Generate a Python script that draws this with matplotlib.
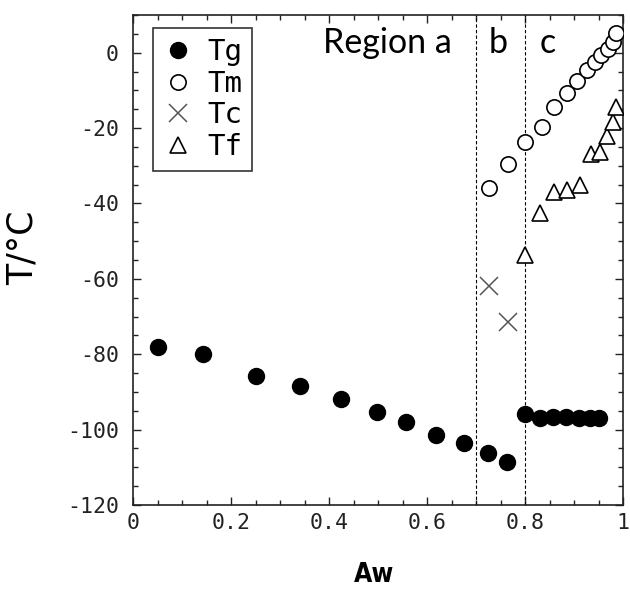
import matplotlib
matplotlib.use("Agg")
import matplotlib.pyplot as plt
from matplotlib.ticker import MultipleLocator, FuncFormatter
from matplotlib import font_manager as fm

# ---- data ----
tg_aw = [0.05, 0.142, 0.25, 0.34, 0.425, 0.497, 0.558, 0.619, 0.675, 0.725, 0.764,
         0.80, 0.830, 0.857, 0.884, 0.911, 0.932, 0.952]
tg_t = [-78.2, -80.0, -85.8, -88.3, -91.9, -95.3, -98.1, -101.4, -103.5, -106.3, -108.6,
        -95.9, -97.0, -96.6, -96.6, -96.8, -96.8, -96.8]

tm_aw = [0.727, 0.765, 0.801, 0.834, 0.859, 0.885, 0.906, 0.926, 0.943, 0.956, 0.970, 0.979, 0.985]
tm_t = [-36.0, -29.6, -23.6, -19.6, -14.5, -10.8, -7.5, -4.6, -2.4, -0.6, 1.1, 2.9, 5.1]

tc_aw = [0.726, 0.765]
tc_t = [-61.8, -71.4]

tf_aw = [0.80, 0.831, 0.859, 0.886, 0.912, 0.934, 0.953, 0.967, 0.979, 0.986]
tf_t = [-53.7, -42.4, -36.9, -36.4, -35.1, -26.9, -26.3, -22.1, -18.3, -14.3]

region_bounds = [0.7, 0.8]
region_labels = ["Region a", "b", "c"]
region_label_x = [0.520, 0.745, 0.847]
legend_labels = ["Tg", "Tm", "Tc", "Tf"]

names = {f.name for f in fm.fontManager.ttflist}
mono = "DejaVu Sans Mono"
calib = "Lato" if "Lato" in names else "DejaVu Sans"

fig = plt.figure(figsize=(6.3, 5.96), dpi=100)
ax = fig.add_axes([133 / 630, 1 - 505 / 596, 490 / 630, 490 / 596])

ax.plot(tg_aw, tg_t, "o", ms=11.5, color="black", mec="black", label=legend_labels[0], zorder=3)
ax.plot(tm_aw, tm_t, "o", ms=11, mfc="white", mec="black", mew=1.2, label=legend_labels[1], zorder=3)
ax.plot(tc_aw, tc_t, "x", ms=13, color="#555555", mew=1.1, label=legend_labels[2], zorder=3)
ax.plot(tf_aw, tf_t, "^", ms=11, mfc="white", mec="black", mew=1.2, label=legend_labels[3], zorder=3)

for b in region_bounds:
    ax.axvline(b, color="black", lw=0.8, ls=(0, (3, 2)), zorder=2)

for lab, x in zip(region_labels, region_label_x):
    ax.text(x, 0.0, lab, ha="center", va="baseline", fontsize=24.5, family=calib, color="black")

ax.set_xlim(0, 1)
ax.set_ylim(-120, 10)
ax.xaxis.set_major_locator(MultipleLocator(0.2))
ax.xaxis.set_minor_locator(MultipleLocator(0.05))
ax.yaxis.set_major_locator(MultipleLocator(20))
ax.yaxis.set_minor_locator(MultipleLocator(5))
ax.xaxis.set_major_formatter(FuncFormatter(lambda v, p: "%g" % round(v, 2)))
ax.yaxis.set_major_formatter(FuncFormatter(lambda v, p: "%d" % round(v)))
ax.tick_params(which="both", direction="in", top=True, right=True, width=1.0, color="#222222")
ax.tick_params(which="major", length=6)
ax.tick_params(which="minor", length=3.5)
ax.tick_params(axis="both", labelsize=15.5, labelcolor="#222222")
ax.tick_params(axis="x", pad=6)
ax.tick_params(axis="y", pad=10)
for lbl in ax.get_xticklabels() + ax.get_yticklabels():
    lbl.set_family(mono)
for s in ax.spines.values():
    s.set_linewidth(1.2)
    s.set_color("#222222")

ax.set_xlabel("Aw", fontsize=19, family="DejaVu Sans", fontweight="bold",
              fontstretch="condensed")
ax.set_ylabel("T/°C", fontsize=25, family="DejaVu Sans")
ax.xaxis.set_label_coords(0.492, -0.116)
ax.yaxis.set_label_coords(-0.19, 0.524)

leg = ax.legend(loc="upper left", bbox_to_anchor=(0.041, 0.973), borderaxespad=0,
                prop={"family": mono, "size": 21}, frameon=True, fancybox=False,
                edgecolor="black", handlelength=1.0, handletextpad=0.5,
                labelspacing=0.12, borderpad=0.35, markerscale=1.0)
leg.get_frame().set_linewidth(1.2)

fig.savefig("out.png", dpi=100)
